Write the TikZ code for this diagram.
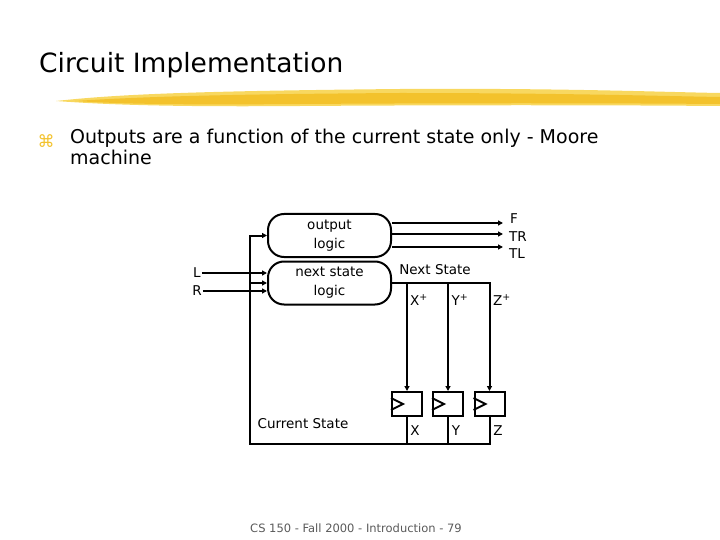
\documentclass[tikz,border=0pt]{standalone}
\usepackage{fontspec}
\setmainfont{DejaVu Sans}
\usetikzlibrary{arrows.meta,positioning,calc}
\definecolor{brushYellow}{HTML}{F3C22C}
\definecolor{brushLight}{HTML}{F8D860}
\definecolor{footGray}{HTML}{5A5A5A}

\begin{document}
\begin{tikzpicture}[
    x=1pt,y=-1pt,
    >={Triangle[length=5pt,width=5pt]},
    every node/.style={font=\fontsize{13.5}{15}\selectfont},
    logic/.style={rectangle,draw,line width=2pt,rounded corners=16pt,
                  minimum width=123pt,minimum height=43pt,
                  inner sep=0pt,align=center,font=\fontsize{13.5}{19}\selectfont},
    ffbox/.style={rectangle,draw,line width=2pt,
                  minimum width=30pt,minimum height=24pt,inner sep=0pt},
    wire/.style={line width=2pt},
    sig/.style={inner sep=1pt},
    lbl/.style={inner sep=1pt,anchor=west}
  ]
  \useasboundingbox (0,0) rectangle (720,540);
  %% Title and brush stroke
  \node[anchor=base west,inner sep=0pt,font=\fontsize{26.5}{30}\selectfont] (title) at (39,73)
        {Circuit Implementation};
  \fill[brushLight] (56,101) .. controls (120,94) and (200,91) .. (400,89)
        .. controls (560,88) and (660,92) .. (720,93) -- (720,106)
        .. controls (600,105) and (450,105) .. (300,106)
        .. controls (180,107) and (110,105) .. (56,101) -- cycle;
  \fill[brushYellow] (75,101) .. controls (150,96) and (250,94) .. (400,93)
        .. controls (560,93) and (660,96) .. (720,97) -- (720,104)
        .. controls (600,103) and (450,103) .. (300,104)
        .. controls (180,105) and (120,104) .. (75,101) -- cycle;
  %% Bullet
  \node[text=brushYellow,font=\fontsize{17}{19}\selectfont] (bul) at (46,141) {⌘};
  \node[anchor=north west,inner sep=0pt,align=left,
        font=\fontsize{19}{21}\selectfont] (intro) at (70,129)
        {Outputs are a function of the current state only - Moore\\machine};
  %% Logic blocks
  \node[logic] (outlogic) at (329.5,235.5) {output\\logic};
  \node[logic] (nslogic) at (329.5,283) {next state\\logic};
  %% Flip-flops
  \node[ffbox] (ffx) at (407,404) {};
  \node[ffbox] (ffy) at (448,404) {};
  \node[ffbox] (ffz) at (489.5,404) {};
  \foreach \f in {ffx,ffy,ffz}
    \draw[wire] ($(\f.west)+(0,-6)$) -- ($(\f.west)+(12,0)$) -- ($(\f.west)+(0,6)$);
  %% Inputs
  \node[sig] (inL) at (197,273) {L};
  \node[sig] (inR) at (197,291) {R};
  \draw[wire,->] (inL.east) -- (inL.east -| nslogic.west);
  \draw[wire,->] (inR.east) -- (inR.east -| nslogic.west);
  %% Outputs
  \node[lbl] (outF) at (509,219) {F};
  \node[lbl] (outTR) at (508,237) {TR};
  \node[lbl] (outTL) at (508,254) {TL};
  \coordinate (endF) at (503,223);
  \coordinate (endTR) at (503,234);
  \coordinate (endTL) at (503,247);
  \foreach \e in {endF,endTR,endTL}
    \draw[wire,->] (\e -| outlogic.east) -- (\e);
  %% Next state bus
  \node[sig] (nslbl) at (435,270) {Next State};
  \draw[wire,->] (nslogic.east) -- (ffz.north |- nslogic.east) -- (ffz.north);
  \draw[wire,->] (ffx.north |- nslogic.east) -- (ffx.north);
  \draw[wire,->] (ffy.north |- nslogic.east) -- (ffy.north);
  \node[sig] (xp) at (419,300) {X\textsuperscript{+}};
  \node[sig] (yp) at (460,300) {Y\textsuperscript{+}};
  \node[sig] (zp) at (502,300) {Z\textsuperscript{+}};
  %% Current state feedback
  \coordinate (fbk) at (250,444);
  \draw[wire,->] (ffz.south) -- (ffz.south |- fbk) -- (fbk) -- (fbk |- outlogic.west)
        -- (outlogic.west);
  \draw[wire] (ffx.south) -- (ffx.south |- fbk);
  \draw[wire] (ffy.south) -- (ffy.south |- fbk);
  \draw[wire,->] (fbk |- nslogic.west) -- (nslogic.west);
  \node[sig] (xq) at (415,431) {X};
  \node[sig] (yq) at (456,431) {Y};
  \node[sig] (zq) at (498,431) {Z};
  \node[sig] (cslbl) at (303,424) {Current State};
  %% Footer
  \node[text=footGray,font=\fontsize{11.5}{13}\selectfont] (foot) at (356,528)
        {CS 150 - Fall 2000 - Introduction - 79};
\end{tikzpicture}
\end{document}
